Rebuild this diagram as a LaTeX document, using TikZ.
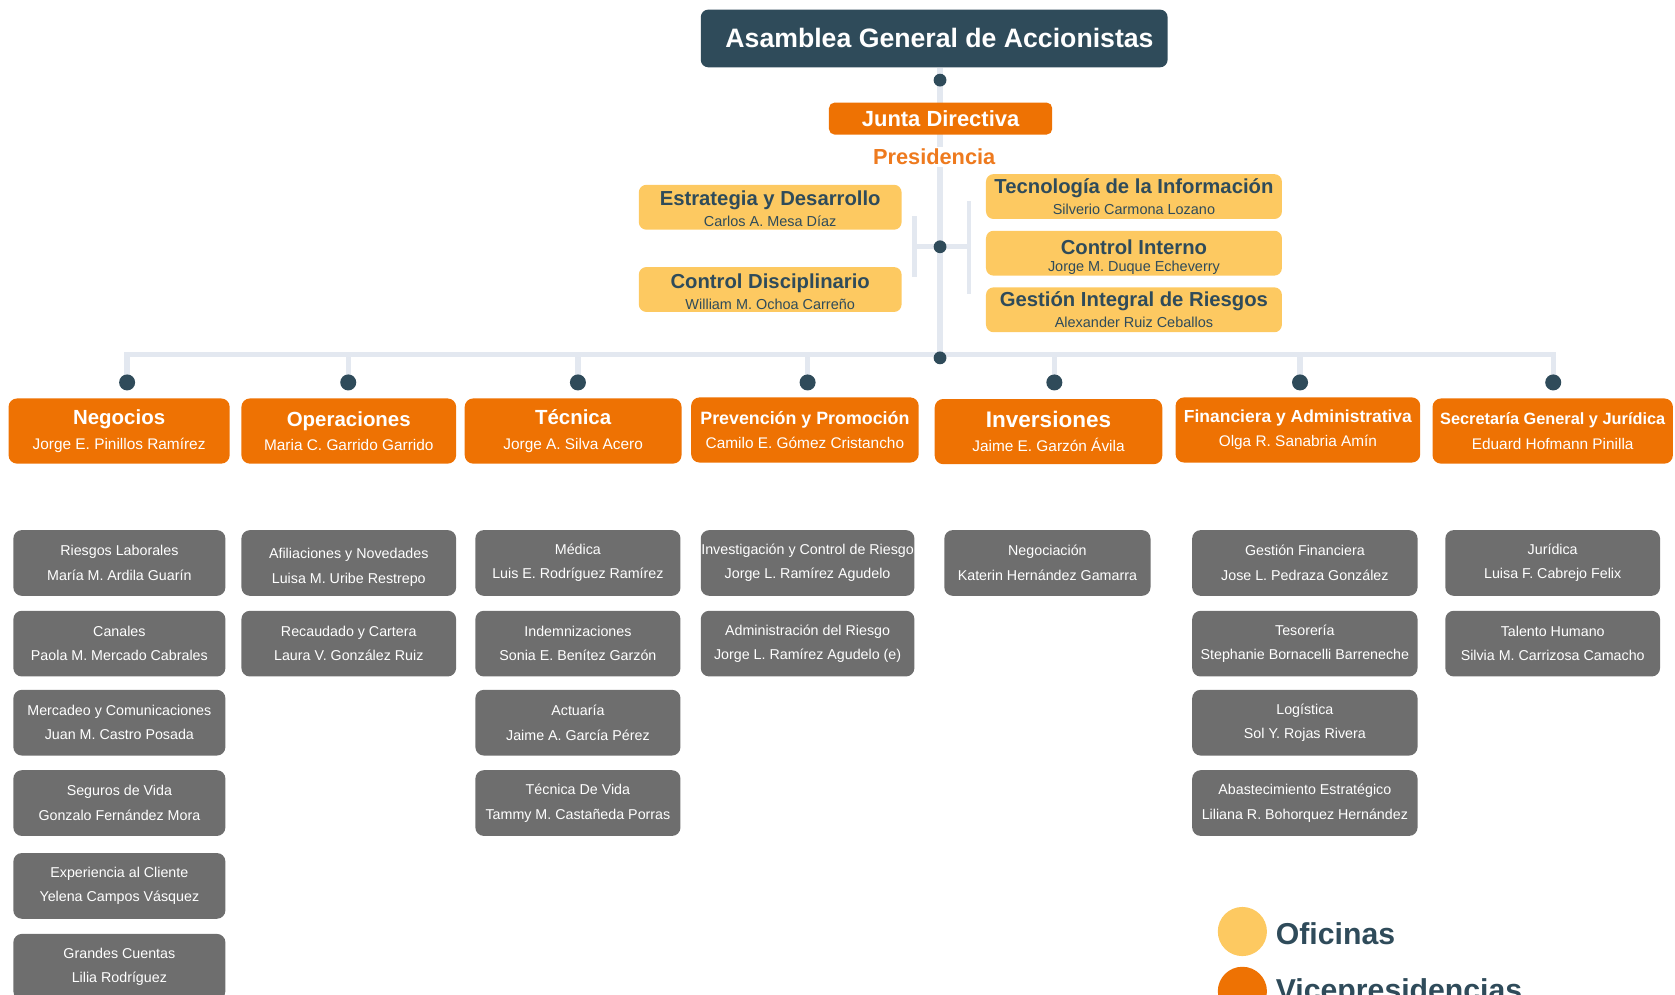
\documentclass[tikz,border=0pt]{standalone}
\usepackage{fontspec}
\setmainfont{Liberation Sans}
\usetikzlibrary{backgrounds}
\newlength\un
\setlength\un{0.02cm}
\definecolor{darkc}{HTML}{2F4B5A}
\definecolor{orangec}{HTML}{EE7203}
\definecolor{presc}{HTML}{EE7A1E}
\definecolor{yellowc}{HTML}{FDC961}
\definecolor{grayc}{HTML}{6E6E6E}
\definecolor{linec}{HTML}{E3E8F0}
\newcommand\gb[5]{\node[gbox, minimum width=#3*\un] (#1) at (#2) {#4\\#5};}
\newcommand\vp[6]{\node[vpbox, minimum width=#3*\un] (#1) at (#2) {{\bfseries\fontsize{#6}{13}\selectfont #4}\\#5};}
\begin{document}
\begin{tikzpicture}[x=0.02cm,y=-0.02cm,
  conn/.style={draw=linec, line width=2.8pt},
  thinconn/.style={draw=linec, line width=2.3pt},
  dot/.style={circle, fill=darkc, inner sep=0pt, minimum size=12*\un},
  bigdot/.style={dot, minimum size=15*\un},
  vpbox/.style={fill=orangec, rounded corners=4.5pt, inner sep=0pt, minimum height=61*\un, align=center, text=white, font=\fontsize{8.2}{13}\selectfont},
  gbox/.style={fill=grayc, rounded corners=4.5pt, inner sep=0pt, minimum height=61.5*\un, align=center, text=white, font=\fontsize{7.6}{13}\selectfont},
  ofbox/.style={fill=yellowc, rounded corners=4pt, inner sep=0pt, minimum height=42*\un, align=center, text=darkc, font=\fontsize{7.7}{10.9}\selectfont},
  legtext/.style={anchor=base west, inner sep=0pt, text=darkc, font=\bfseries\fontsize{16.1}{18}\selectfont}
]
\useasboundingbox (0,0) rectangle (1568,931);
\clip (0,0) rectangle (1568,931);

% top
\node[fill=darkc, rounded corners=4pt, inner sep=0pt, minimum width=437*\un, minimum height=54*\un, text=white, font=\bfseries\fontsize{14.2}{16}\selectfont] (asamblea) at (874.5,36) {\hspace*{10\un}Asamblea General de Accionistas};
\node[dot] (d0) at (880,75) {};
\node[fill=orangec, rounded corners=3pt, inner sep=0pt, minimum width=209*\un, minimum height=30*\un, text=white, font=\bfseries\fontsize{11.7}{13}\selectfont] (junta) at (880.5,111) {Junta Directiva};
\node[fill=white, inner sep=1pt, text=presc, font=\bfseries\fontsize{11.6}{13}\selectfont] (pres) at (874.5,147) {Presidencia};
\node[dot] (d1) at (880,231) {};

% offices
\node[ofbox, minimum width=246*\un] (estr) at (721,194) {{\bfseries\fontsize{10.8}{12}\selectfont\rule{0pt}{9.5pt}Estrategia y Desarrollo}\\Carlos A. Mesa Díaz};
\node[ofbox, minimum width=246*\un] (disc) at (721,271) {{\bfseries\fontsize{10.8}{12}\selectfont\rule{0pt}{10pt}Control Disciplinario}\\William M. Ochoa Carreño};
\node[ofbox, minimum width=277*\un] (tecn) at (1061.5,184) {{\bfseries\fontsize{10.8}{12}\selectfont Tecnología de la Información}\\Silverio Carmona Lozano};
\node[ofbox, minimum width=277*\un, font=\fontsize{7.7}{9.3}\selectfont] (cint) at (1061.5,237) {{\bfseries\fontsize{10.8}{12}\selectfont\rule{0pt}{12pt}Control Interno}\\Jorge M. Duque Echeverry};
\node[ofbox, minimum width=277*\un] (gest) at (1061.5,290) {{\bfseries\fontsize{10.8}{12}\selectfont Gestión Integral de Riesgos}\\Alexander Ruiz Ceballos};

% hub and dots
\node[dot] (hub) at (880,335) {};
\node[bigdot] (dNeg) at (119,358) {};
\node[bigdot] (dOpe) at (326,358) {};
\node[bigdot] (dTec) at (541,358) {};
\node[bigdot] (dPre) at (756,358) {};
\node[bigdot] (dInv) at (987,358) {};
\node[bigdot] (dFin) at (1217,358) {};
\node[bigdot] (dSec) at (1454,358) {};

% vice presidencies
\vp{neg}{111.5,403.5}{207}{Negocios}{Jorge E. Pinillos Ramírez}{10.9}
\vp{ope}{326.5,403.5}{201}{Operaciones}{Maria C. Garrido Garrido}{10.9}
\vp{tec}{536.5,403.5}{203}{Técnica}{Jorge A. Silva Acero}{10.9}
\vp{pre}{753.5,402.5}{213}{Prevención y Promoción}{Camilo E. Gómez Cristancho}{9.5}
\vp{inv}{981.5,404}{213}{Inversiones}{Jaime E. Garzón Ávila}{12}
\vp{fin}{1215,402.5}{229}{Financiera y Administrativa}{Olga R. Sanabria Amín}{9.3}
\vp{sec}{1453.5,403.5}{225}{Secretaría General y Jurídica}{Eduard Hofmann Pinilla}{8.7}

% gray boxes
\gb{n1}{111.75,527}{198.5}{Riesgos Laborales}{María M. Ardila Guarín}
\gb{n2}{111.75,602.5}{198.5}{Canales}{Paola M. Mercado Cabrales}
\gb{n3}{111.75,676.5}{198.5}{Mercadeo y Comunicaciones}{Juan M. Castro Posada}
\gb{n4}{111.75,751.75}{198.5}{Seguros de Vida}{Gonzalo Fernández Mora}
\gb{n5}{111.75,829.3}{198.5}{Experiencia al Cliente}{Yelena Campos Vásquez}
\gb{n6}{111.75,905}{198.5}{Grandes Cuentas}{Lilia Rodríguez}
\gb{o1}{326.5,527}{201}{\rule{0pt}{10pt}Afiliaciones y Novedades}{Luisa M. Uribe Restrepo}
\gb{o2}{326.5,602.5}{201}{Recaudado y Cartera}{Laura V. González Ruiz}
\gb{t1}{541,527}{192}{Médica}{Luis E. Rodríguez Ramírez}
\gb{t2}{541,602.5}{192}{Indemnizaciones}{Sonia E. Benítez Garzón}
\gb{t3}{541,676.5}{192}{Actuaría}{Jaime A. García Pérez}
\gb{t4}{541,751.75}{192}{Técnica De Vida}{Tammy M. Castañeda Porras}
\gb{p1}{756,527}{200}{Investigación y Control de Riesgo}{Jorge L. Ramírez Agudelo}
\gb{p2}{756,602.5}{200}{Administración del Riesgo}{Jorge L. Ramírez Agudelo (e)}
\gb{i1}{980.5,527}{193}{Negociación}{Katerin Hernández Gamarra}
\gb{f1}{1221.5,527}{211}{Gestión Financiera}{Jose L. Pedraza González}
\gb{f2}{1221.5,602.5}{211}{Tesorería}{Stephanie Bornacelli Barreneche}
\gb{f3}{1221.5,676.5}{211}{Logística}{Sol Y. Rojas Rivera}
\gb{f4}{1221.5,751.75}{211}{Abastecimiento Estratégico}{Liliana R. Bohorquez Hernández}
\gb{s1}{1453.5,527}{201}{Jurídica}{Luisa F. Cabrejo Felix}
\gb{s2}{1453.5,602.5}{201}{Talento Humano}{Silvia M. Carrizosa Camacho}

% legend
\node[circle, fill=yellowc, inner sep=0pt, minimum size=46*\un] (lo) at (1163,872) {};
\node[legtext] (lot) at (1194,884) {Oficinas};
\node[circle, fill=orangec, inner sep=0pt, minimum size=46*\un] (lv) at (1163,928) {};
\node[legtext] (lvt) at (1194,937) {Vicepresidencias};

% connectors
\coordinate (bl1) at (856,202);
\coordinate (bl2) at (856,259);
\coordinate (br1) at (907,188);
\coordinate (br2) at (907,275);
\coordinate (barL) at (119,332);
\coordinate (barR) at (1454,332);
\begin{scope}[on background layer]
\draw[conn] (d0.center |- asamblea.south) -- (hub.center);
\draw[thinconn] (bl1) -- (bl2);
\draw[thinconn] (br1) -- (br2);
\draw[conn] (bl1 |- d1) -- (br1 |- d1);
\draw[conn] (dNeg.center) -- (barL) -- (barR) -- (dSec.center);
\foreach \d in {dOpe,dTec,dPre,dInv,dFin}
  \draw[conn] (\d.center) -- (\d.center |- barL);
\end{scope}
\end{tikzpicture}
\end{document}
